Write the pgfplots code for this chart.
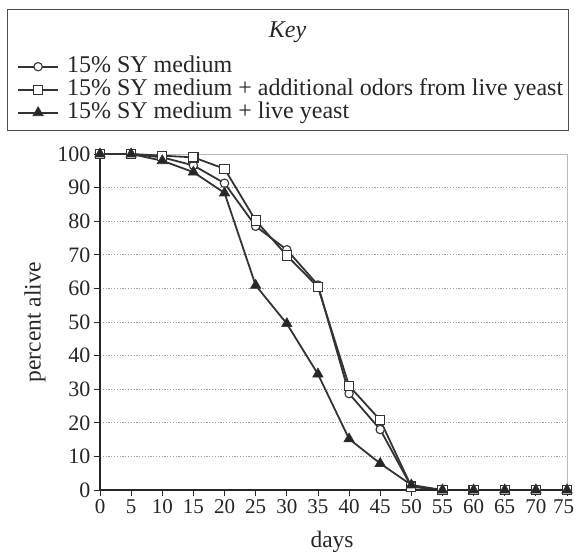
\documentclass[border=0pt]{standalone}
\usepackage{fontspec}
\setmainfont{Liberation Serif}
\usepackage{pgfplots}
\pgfplotsset{compat=1.18}
\begin{document}
\begin{tikzpicture}[x=1pt,y=1pt]
\useasboundingbox (-100,-66) rectangle (475,490);
\begin{axis}[
  scale only axis, width=467pt, height=336pt,
  xmin=0, xmax=75, ymin=0, ymax=100,
  xtick={0,5,...,75}, ytick={0,10,...,100},
  xticklabels={0,5,10,15,20,25,30,35,40,45,50,55,60,65,70,{\makebox[0pt]{75\hspace{7pt}}}},
  tick align=outside, xtick pos=bottom, ytick pos=left,
  major tick length=6pt,
  tick style={black!85, line width=0.8pt},
  ymajorgrids,
  grid style={gray!75, line width=0.7pt, dash pattern=on 1.2pt off 1.6pt},
  axis line style={gray!55, line width=0.6pt},
  yticklabel style={font=\fontsize{22}{26}\selectfont, text=black!85},
  xticklabel style={font=\fontsize{21}{26}\selectfont, text=black!85},
  /pgf/number format/assume math mode=true,
  xlabel={days}, ylabel={percent alive},
  every axis x label/.style={at={(axis description cs:0.497,-0.1726)}, anchor=base, font=\fontsize{23.5}{28}\selectfont, text=black!85},
  every axis y label/.style={at={(axis description cs:-0.139,0.5)}, rotate=90, anchor=center, font=\fontsize{23.5}{28}\selectfont, text=black!85},
  clip=false,
  legend cell align=left,
  legend image code/.code={\draw[mark repeat=2,mark phase=2,#1] plot coordinates {(0pt,0pt) (20pt,0pt) (40pt,0pt)};},
  legend style={at={(axis description cs:-0.1777,1.2946)}, anchor=north west,
    draw=none, fill=none, inner sep=0pt, row sep=0pt,
    font=\fontsize{24}{28}\selectfont, text=black!85,
    nodes={inner sep=0pt, text height=17pt, text depth=6pt},
    /tikz/every odd column/.style={column sep=8pt}},
]
\addplot[black!80, line width=1.8pt, mark=*, mark size=4.2pt, mark options={fill=white, line width=1.1pt}] coordinates {
(0,100)(5,100)(10,99)(15,96.6)(20,91.3)(25,78.5)(30,71.5)(35,61)(40,28.7)(45,18)(50,1)(55,0)(60,0)(65,0)(70,0)(75,0)};
\addlegendentry{15\% SY medium}
\addplot[black!80, line width=1.8pt, mark=square*, mark size=4.6pt, mark options={fill=white, line width=1.1pt}] coordinates {
(0,100)(5,100)(10,99.5)(15,99)(20,95.6)(25,80.2)(30,69.8)(35,60.4)(40,31)(45,20.8)(50,1)(55,0)(60,0)(65,0)(70,0)(75,0)};
\addlegendentry{15\% SY medium + additional odors from live yeast}
\addplot[black!80, line width=1.8pt, mark=triangle*, mark size=6pt, mark options={fill=black!85, line width=0.6pt}] coordinates {
(0,100)(5,100)(10,98)(15,94.6)(20,88.4)(25,60.9)(30,49.5)(35,34.5)(40,15.2)(45,7.9)(50,1.5)(55,0)(60,0)(65,0)(70,0)(75,0)};
\addlegendentry{15\% SY medium + live yeast}
\draw[black!85, line width=1.1pt] (rel axis cs:0,1) -- (rel axis cs:0,0) -- (rel axis cs:1,0);
\end{axis}
\draw[black!70, line width=0.9pt] (-93,481) rectangle (468,360);
\node[font=\fontsize{24}{28}\selectfont\itshape, text=black!85, anchor=base] at (187.5,452) {Key};
\end{tikzpicture}
\end{document}
